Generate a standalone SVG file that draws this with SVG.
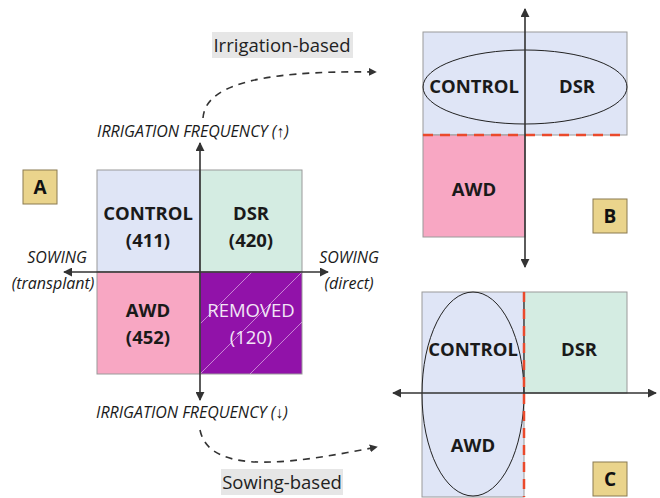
<svg xmlns="http://www.w3.org/2000/svg" width="660" height="498" viewBox="0 0 660 498">
<defs>
<marker id="ah" viewBox="0 0 10 10" refX="9" refY="5" markerWidth="9" markerHeight="9" markerUnits="userSpaceOnUse" orient="auto">
<path d="M0,0 L10,5 L0,10 z" fill="#333"/>
</marker>
<marker id="ahs" viewBox="0 0 10 10" refX="9" refY="5" markerWidth="8" markerHeight="8" markerUnits="userSpaceOnUse" orient="auto">
<path d="M0,0 L10,5 L0,10 z" fill="#333"/>
</marker>
<clipPath id="remclip"><rect x="200" y="272" width="102" height="102"/></clipPath>
</defs>
<style>
.q{stroke:#9a9a9a;stroke-width:1}
.blue{fill:#dfe5f6}
.green{fill:#d4ece2}
.pink{fill:#f8a7c3}
.purple{fill:#9112a9}
.b{font-family:"Open Sans","Noto Sans",sans-serif;font-weight:bold;font-size:18.5px;fill:#1a1a1a;text-anchor:middle}
.w{font-family:"Open Sans","Noto Sans",sans-serif;font-size:18.5px;fill:#f2e6f6;text-anchor:middle}
.it{font-family:"Open Sans","Noto Sans",sans-serif;font-style:italic;font-size:16px;fill:#1a1a1a;text-anchor:middle}
.lbl{fill:#ead48c;stroke:#8a7a50;stroke-width:1}
.lt{font-family:"Open Sans","Noto Sans",sans-serif;font-weight:bold;font-size:19px;fill:#111;text-anchor:middle}
.ax{stroke:#333;stroke-width:1.6;fill:none}
.red{stroke:#ea4a2c;stroke-width:2.5;stroke-dasharray:10 7;fill:none}
.cap{fill:#e6e6e6}
.ct{font-family:"Open Sans","Noto Sans",sans-serif;font-size:18.5px;fill:#222;text-anchor:middle}
.dsh{stroke:#333;stroke-width:1.6;stroke-dasharray:7 6;fill:none}
</style>

<g id="panelA">
<g id="a-control"><rect class="q blue" x="97" y="170" width="103" height="102"/><text class="b" x="148" y="220">CONTROL</text><text class="b" x="148" y="247">(411)</text></g>
<g id="a-dsr"><rect class="q green" x="200" y="170" width="102" height="102"/><text class="b" x="251" y="220">DSR</text><text class="b" x="251" y="247">(420)</text></g>
<g id="a-awd"><rect class="q pink" x="97" y="272" width="103" height="102"/><text class="b" x="148" y="317">AWD</text><text class="b" x="148" y="344">(452)</text></g>
<g id="a-removed"><rect class="q purple" x="200" y="272" width="102" height="102"/>
<g clip-path="url(#remclip)" stroke="#e6c8ee" stroke-width="0.8" opacity="0.8"><line x1="200" y1="324" x2="252" y2="272"/><line x1="200" y1="374" x2="302" y2="272"/><line x1="250" y1="374" x2="302" y2="322"/></g>
<text class="w" x="251" y="317">REMOVED</text><text class="w" x="251" y="344">(120)</text></g>
<g id="a-label"><rect class="lbl" x="23" y="170" width="34" height="34"/><text class="lt" x="40" y="194">A</text></g>
<text class="it" x="193" y="137">IRRIGATION FREQUENCY (↑)</text>
<text class="it" x="192" y="418">IRRIGATION FREQUENCY (↓)</text>
<text class="it" x="57" y="263">SOWING</text>
<text class="it" x="53" y="289">(transplant)</text>
<text class="it" x="349" y="263">SOWING</text>
<text class="it" x="349" y="289">(direct)</text>
</g>

<g id="panelB">
<rect class="q blue" x="423" y="32" width="204" height="103"/>
<rect class="q pink" x="423" y="135" width="102" height="102"/>
<ellipse cx="525" cy="87" rx="102" ry="37" fill="none" stroke="#222" stroke-width="1"/>
<text class="b" x="474" y="93">CONTROL</text>
<text class="b" x="577" y="93">DSR</text>
<text class="b" x="474" y="196">AWD</text>
<line class="red" x1="423" y1="135" x2="627" y2="135"/>
<g id="b-label"><rect class="lbl" x="593" y="199" width="34" height="34"/><text class="lt" x="610" y="223">B</text></g>
</g>

<g id="panelC">
<rect class="q blue" x="422" y="292" width="102" height="205"/>
<rect class="q green" x="524" y="292" width="103" height="101"/>
<ellipse cx="473" cy="394" rx="51" ry="102" fill="none" stroke="#222" stroke-width="1"/>
<text class="b" x="473" y="356">CONTROL</text>
<text class="b" x="579" y="356">DSR</text>
<text class="b" x="473" y="452">AWD</text>
<line x1="524" y1="292" x2="524" y2="393" stroke="#333" stroke-width="1.2"/>
<line class="red" x1="524" y1="292" x2="524" y2="497"/>
<g id="c-label"><rect class="lbl" x="593" y="462" width="34" height="34"/><text class="lt" x="610" y="486">C</text></g>
</g>

<g id="captions">
<rect class="cap" x="212" y="32" width="141" height="26"/>
<text class="ct" x="282" y="52">Irrigation-based</text>
<rect class="cap" x="221" y="469" width="122" height="26"/>
<text class="ct" x="282" y="489">Sowing-based</text>
</g>

<g id="connectors">
<line class="ax" x1="200" y1="272" x2="200" y2="143" marker-end="url(#ah)"/>
<line class="ax" x1="200" y1="272" x2="200" y2="400" marker-end="url(#ah)"/>
<line class="ax" x1="200" y1="272" x2="64" y2="272" marker-end="url(#ah)"/>
<line class="ax" x1="200" y1="272" x2="328" y2="272" marker-end="url(#ah)"/>
<line class="ax" x1="525" y1="135" x2="525" y2="9" marker-end="url(#ah)"/>
<line class="ax" x1="525" y1="135" x2="525" y2="267" marker-end="url(#ah)"/>
<line class="ax" x1="524" y1="393" x2="393" y2="393" marker-end="url(#ah)"/>
<line class="ax" x1="524" y1="393" x2="656" y2="393" marker-end="url(#ah)"/>
<path class="dsh" d="M203,118 C205,88 250,70 376,72" marker-end="url(#ahs)"/>
<path class="dsh" d="M200,430 C210,478 300,462 377,447" marker-end="url(#ahs)"/>
</g>
</svg>
